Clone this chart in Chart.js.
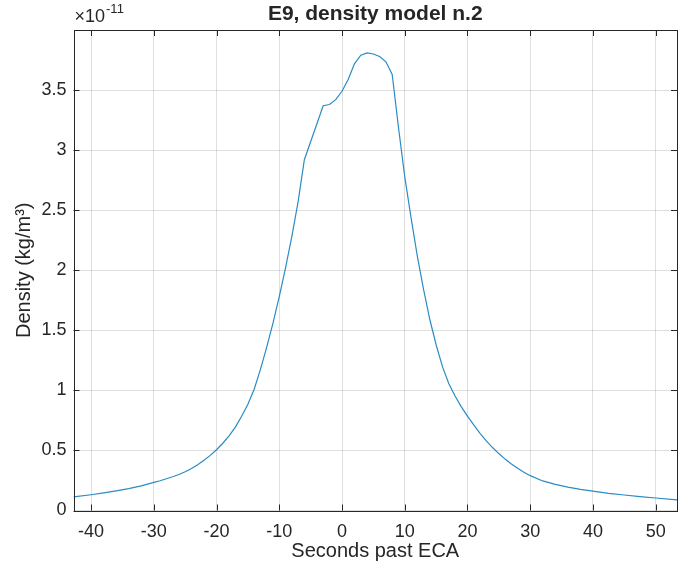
<!DOCTYPE html>
<html>
<head>
<meta charset="utf-8">
<script src="https://cdn.jsdelivr.net/npm/chart.js@4"></script>
<style>
  html, body { margin: 0; padding: 0; background: #fff; }
  #wrap { width: 678px; height: 574px; }
</style>
</head>
<body>
<div id="wrap"><canvas id="densityChart" width="678" height="574"></canvas></div>
<script>
// density values are in units of 1e-11 kg/m^3
const seconds = [-42.8, -40, -38, -36, -34, -32, -30, -29, -28, -27, -26, -25, -24, -23, -22, -21, -20, -19, -18, -17, -16, -15,
    -14, -13, -12, -11, -10, -9, -8, -7, -6, -5, -4, -3, -2, -1, 0, 1, 2, 3, 4, 5, 6, 7, 8,
    9, 10, 11, 12, 13, 14, 15, 16, 17, 18, 19, 20, 21, 22, 23, 24, 25, 26, 27, 28, 29, 30,
    32, 34, 36, 38, 40, 42.5, 45, 47.5, 50, 53.4];
const density = [0.113, 0.131, 0.146, 0.163, 0.182, 0.205, 0.234, 0.248, 0.264, 0.281, 0.30, 0.322, 0.35, 0.381, 0.418, 0.459, 0.506, 0.56, 0.622, 0.694, 0.785, 0.885,
    1.01, 1.175, 1.36, 1.56, 1.78, 2.02, 2.28, 2.57, 2.92, 3.07, 3.22, 3.37, 3.38, 3.42, 3.49, 3.59, 3.72, 3.79, 3.81, 3.80, 3.78, 3.735, 3.63,
    3.19, 2.78, 2.44, 2.12, 1.84, 1.59, 1.38, 1.20, 1.06, 0.955, 0.865, 0.785, 0.712, 0.643, 0.58, 0.524, 0.474, 0.428, 0.387, 0.351, 0.319, 0.29,
    0.246, 0.217, 0.194, 0.176, 0.161, 0.143, 0.129, 0.116, 0.104, 0.089];
const xTicks = [-40, -30, -20, -10, 0, 10, 20, 30, 40, 50];
const yTicks = [0, 0.5, 1, 1.5, 2, 2.5, 3, 3.5];

const axisColor = '#262626';
const gridColor = 'rgba(38,38,38,0.15)';
const fontFamily = '"Liberation Sans", Arial, Helvetica, sans-serif';

// MATLAB-like box, inward ticks and the exponent label
const matlabAxes = {
    id: 'matlabAxes',
    afterDraw(chart) {
        const ctx = chart.ctx;
        const area = chart.chartArea;
        const xs = chart.scales.x;
        const ys = chart.scales.y;
        const len = 6;
        ctx.save();
        ctx.strokeStyle = axisColor;
        ctx.lineWidth = 1;
        ctx.beginPath();
        xTicks.forEach(v => {
            const px = Math.round(xs.getPixelForValue(v)) + 0.5;
            ctx.moveTo(px, area.bottom);
            ctx.lineTo(px, area.bottom - len);
            ctx.moveTo(px, area.top);
            ctx.lineTo(px, area.top + len);
        });
        yTicks.forEach(v => {
            const py = Math.round(ys.getPixelForValue(v)) + 0.5;
            ctx.moveTo(area.left, py);
            ctx.lineTo(area.left + len, py);
            ctx.moveTo(area.right, py);
            ctx.lineTo(area.right - len, py);
        });
        ctx.stroke();
        ctx.strokeRect(Math.round(area.left) + 0.5, Math.round(area.top) + 0.5,
            Math.round(area.right - area.left) - 1, Math.round(area.bottom - area.top));

        // exponent
        ctx.fillStyle = axisColor;
        ctx.textBaseline = 'alphabetic';
        ctx.font = '18px ' + fontFamily;
        ctx.fillText('\u00d710', area.left + 1, area.top - 8);
        const w = ctx.measureText('\u00d710').width;
        ctx.font = '13px ' + fontFamily;
        ctx.fillText('-11', area.left + 1 + w + 1, area.top - 17);
        ctx.restore();
    }
};

const ctx = document.getElementById('densityChart').getContext('2d');
new Chart(ctx, {
    type: 'scatter',
    data: {
        datasets: [{
            data: seconds.map((s, i) => ({ x: s, y: density[i] })),
            showLine: true,
            borderColor: '#2a8cc4',
            borderWidth: 1.2,
            pointRadius: 0,
            tension: 0
        }]
    },
    options: {
        responsive: false,
        animation: false,
        layout: { padding: { top: 0, right: 1, left: 0, bottom: 0 } },
        plugins: {
            legend: { display: false },
            tooltip: { enabled: false },
            title: {
                display: true,
                text: 'E9, density model n.2',
                fullSize: false,
                color: axisColor,
                font: { family: fontFamily, size: 21, weight: 'bold' },
                padding: { top: 2, bottom: 2.8 }
            }
        },
        scales: {
            x: {
                type: 'linear',
                min: -42.8,
                max: 53.4,
                afterBuildTicks: scale => { scale.ticks = xTicks.map(v => ({ value: v })); },
                afterFit: scale => { scale.height = 63.5; },
                grid: { color: gridColor, drawTicks: false },
                border: { display: false },
                ticks: {
                    color: axisColor,
                    padding: 11,
                    maxRotation: 0,
                    font: { family: fontFamily, size: 18 }
                },
                title: {
                    display: true,
                    text: 'Seconds past ECA',
                    color: axisColor,
                    font: { family: fontFamily, size: 20 },
                    padding: { top: 11, bottom: 11 }
                }
            },
            y: {
                min: 0,
                max: 4,
                afterBuildTicks: scale => { scale.ticks = yTicks.map(v => ({ value: v })); },
                afterFit: scale => { scale.width = 73.5; },
                grid: { color: gridColor, drawTicks: false },
                border: { display: false },
                ticks: {
                    color: axisColor,
                    padding: 7,
                    font: { family: fontFamily, size: 18 },
                    callback: v => String(v)
                },
                title: {
                    display: true,
                    text: 'Density (kg/m\u00b3)',
                    color: axisColor,
                    font: { family: fontFamily, size: 20 },
                    padding: { top: 12, bottom: 0 }
                }
            }
        }
    },
    plugins: [matlabAxes]
});
</script>
</body>
</html>
